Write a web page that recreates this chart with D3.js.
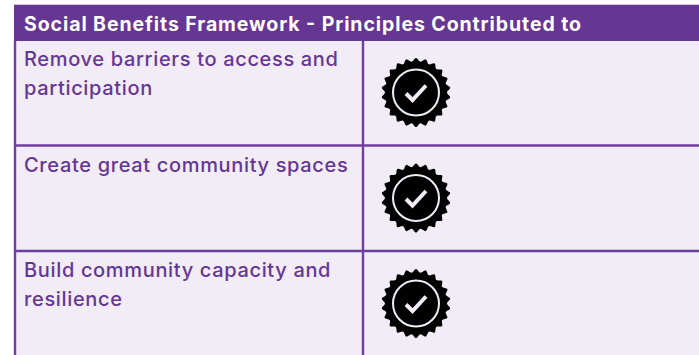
<!DOCTYPE html>
<html>
<head>
<meta charset="utf-8">
<script src="https://cdn.jsdelivr.net/npm/d3@7"></script>
<style>
    html, body { margin: 0; padding: 0; background: #fff; }
    svg { display: block; }
    text { font-family: Inter, "Open Sans", sans-serif; }
</style>
</head>
<body>
<svg id="chart" width="699" height="355"></svg>
<script>
const title = 'Social Benefits Framework - Principles Contributed to'
const principles = ['barriers', 'spaces', 'capacity']
const rowLines = [
    ['Remove barriers to access and', 'participation'],
    ['Create great community spaces'],
    ['Build community capacity and', 'resilience']
]
const contributed = [true, true, true]

const purple = '#663694'
const rule = '#6f3fa0'
const cellFill = '#f1ecf5'

let svg = d3.select('#chart'),
    width = +svg.attr('width'),
    height = +svg.attr('height')

// 3 rows, the last one runs off the bottom of the picture
let y = d3.scaleBand().domain(principles).range([40, 356.5])
let x = d3.scaleOrdinal().domain(['label', 'mark']).range([15, 363])

// Table background
svg.append('rect')
    .attr('x', 15).attr('y', 5)
    .attr('width', width - 15).attr('height', height - 5)
    .attr('fill', cellFill)

// Faint top edge of the page scan
svg.append('line').attr('x1', 14).attr('x2', width).attr('y1', 4.5).attr('y2', 4.5)
    .attr('stroke', '#cfc6da').attr('stroke-width', 1)

// Header
svg.append('rect')
    .attr('x', 14).attr('y', 5)
    .attr('width', width - 14).attr('height', 36)
    .attr('fill', purple)

svg.append('text')
    .attr('x', 24).attr('y', 31)
    .attr('fill', '#fff')
    .attr('font-size', 19.5)
    .attr('font-weight', 700)
    .attr('textLength', 557)
    .attr('lengthAdjust', 'spacing')
    .text(title)

// Grid lines
svg.selectAll('.row-rule')
    .data(principles.slice(1))
    .enter().append('line')
    .attr('class', 'row-rule')
    .attr('x1', 15).attr('x2', width)
    .attr('y1', function (d) { return y(d) })
    .attr('y2', function (d) { return y(d) })
    .attr('stroke', rule).attr('stroke-width', 2.4)

svg.selectAll('.col-rule')
    .data(x.domain())
    .enter().append('line')
    .attr('class', 'col-rule')
    .attr('x1', function (d) { return x(d) })
    .attr('x2', function (d) { return x(d) })
    .attr('y1', 41).attr('y2', height)
    .attr('stroke', rule).attr('stroke-width', 2.4)

// Row labels
let rows = svg.selectAll('.row')
    .data(principles)
    .enter().append('g')
    .attr('class', 'row')
    .attr('transform', function (d) { return 'translate(24,' + y(d) + ')' })

rows.selectAll('text')
    .data(function (d, i) { return rowLines[i] })
    .enter().append('text')
    .attr('y', function (d, i) { return 26 + i * 29 })
    .attr('fill', purple)
    .attr('font-size', 20)
    .attr('font-weight', 500)
    .attr('letter-spacing', 0.66)
    .text(function (d) { return d })

// Badge outline, scalloped edge
let teeth = d3.range(44).map(function (i) {
    return [i / 44 * 2 * Math.PI, i % 2 ? 31 : 34.5]
})
let badgePath = d3.lineRadial().curve(d3.curveCardinalClosed.tension(0))(teeth)

let badges = svg.selectAll('.badge')
    .data(principles.filter(function (d, i) { return contributed[i] }))
    .enter().append('g')
    .attr('class', 'badge')
    .attr('transform', function (d) { return 'translate(416,' + (y(d) + 52.5) + ')' })

badges.append('path').attr('d', badgePath).attr('fill', '#000')

badges.append('circle')
    .attr('r', 23)
    .attr('fill', 'none')
    .attr('stroke', cellFill)
    .attr('stroke-width', 2)

badges.append('path')
    .attr('d', 'M-10,1 L-3.5,7.5 L10,-7')
    .attr('fill', 'none')
    .attr('stroke', cellFill)
    .attr('stroke-width', 4)
</script>
</body>
</html>
